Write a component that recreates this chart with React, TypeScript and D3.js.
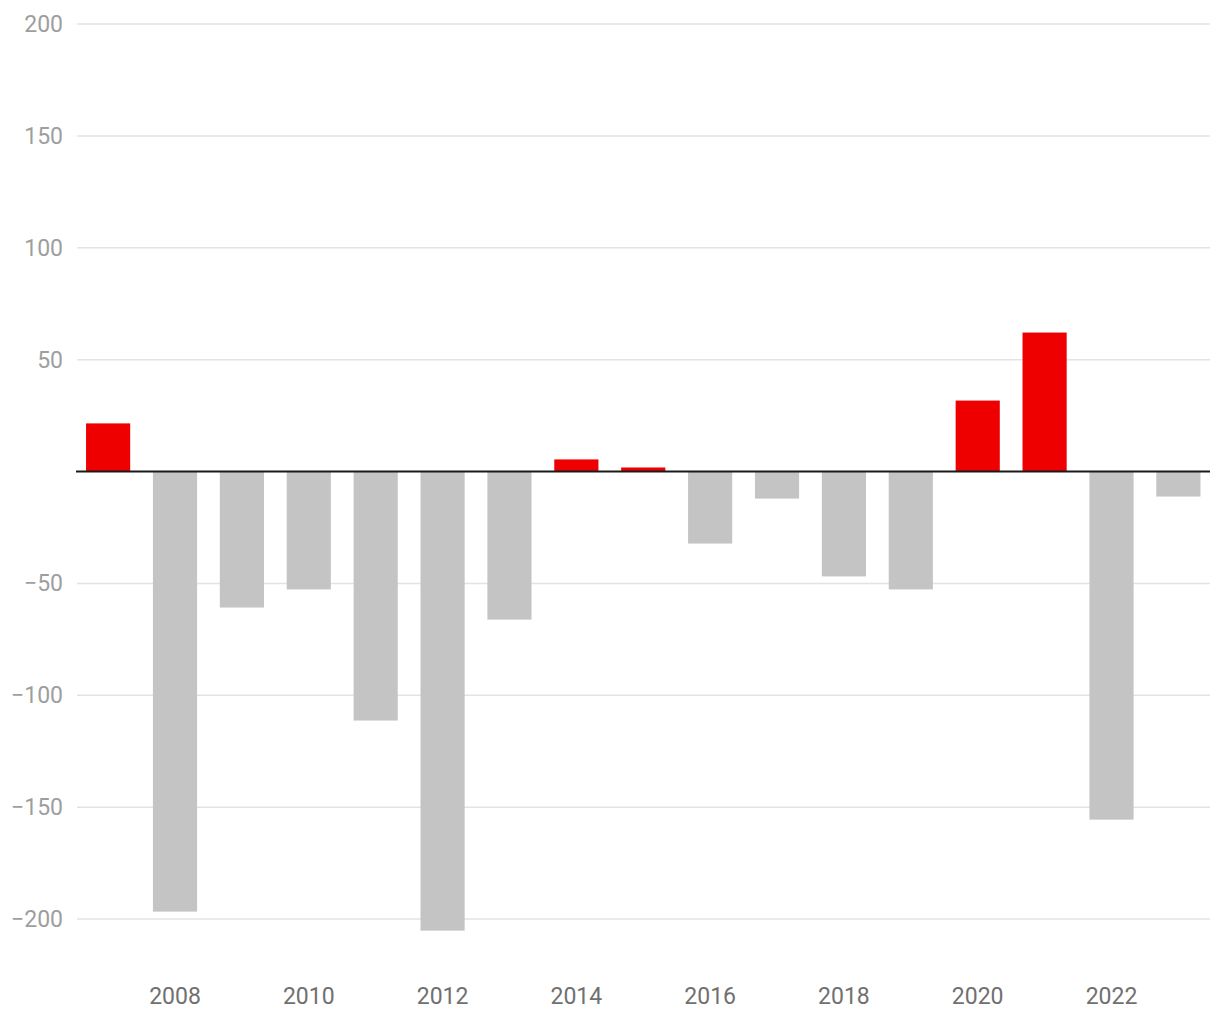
import React, { useEffect, useRef } from 'react';
import * as d3 from 'd3';

const years = [2007, 2008, 2009, 2010, 2011, 2012, 2013, 2014, 2015, 2016, 2017, 2018, 2019, 2020, 2021, 2022, 2023];
const values = [21.5, -196.7, -60.8, -52.7, -111.3, -205.2, -66.2, 5.4, 1.8, -32.2, -12.1, -46.9, -52.7, 31.7, 62.1, -155.6, -11.2];
const yTicks = [-200, -150, -100, -50, 50, 100, 150, 200];
const xTickYears = [2008, 2010, 2012, 2014, 2016, 2018, 2020, 2022];

function App() {
  const ref = useRef<SVGSVGElement>(null);

  useEffect(() => {
    const svg = d3.select(ref.current);
    svg.selectAll('*').remove();

    const x = d3.scaleBand<number>()
      .domain(years)
      .range([76, 1210.5])
      .paddingInner(0.34)
      .paddingOuter(0.15);
    const y = d3.scaleLinear().domain([-200, 200]).range([919, 24]);

    // grid lines
    svg.append('g')
      .selectAll('line')
      .data(yTicks)
      .enter()
      .append('line')
      .attr('x1', 77)
      .attr('x2', 1210)
      .attr('y1', d => y(d))
      .attr('y2', d => y(d))
      .attr('stroke', '#e3e3e3')
      .attr('stroke-width', 1.5);

    // y labels
    svg.append('g')
      .selectAll('text')
      .data([...yTicks, 0].filter(d => d !== 0))
      .enter()
      .append('text')
      .attr('x', 63)
      .attr('y', d => y(d))
      .attr('dy', '0.35em')
      .attr('text-anchor', 'end')
      .attr('font-family', 'Roboto')
      .style('font-size', '23px')
      .attr('fill', '#9e9e9e')
      .text(d => d3.format('')(d).replace('-', '\u2212'));

    // bars
    svg.append('g')
      .selectAll('rect')
      .data(years.map((yr, i) => ({ yr, v: values[i] })))
      .enter()
      .append('rect')
      .attr('x', d => x(d.yr)!)
      .attr('width', x.bandwidth())
      .attr('y', d => y(Math.max(0, d.v)))
      .attr('height', d => Math.abs(y(d.v) - y(0)))
      .attr('fill', d => (d.v > 0 ? '#ee0000' : '#c4c4c4'));

    // zero line
    svg.append('line')
      .attr('x1', 76)
      .attr('x2', 1210)
      .attr('y1', y(0))
      .attr('y2', y(0))
      .attr('stroke', '#1a1a1a')
      .attr('stroke-width', 2);

    // x labels
    svg.append('g')
      .selectAll('text')
      .data(xTickYears)
      .enter()
      .append('text')
      .attr('x', d => x(d)! + x.bandwidth() / 2)
      .attr('y', 1004)
      .attr('text-anchor', 'middle')
      .attr('font-family', 'Roboto')
      .style('font-size', '23px')
      .attr('fill', '#707070')
      .text(d => String(d));
  }, []);

  return (
    <svg ref={ref} width={1220} height={1020} style={{ position: 'absolute', left: 0, top: 0, background: '#fff' }} />
  );
}

export default App;
